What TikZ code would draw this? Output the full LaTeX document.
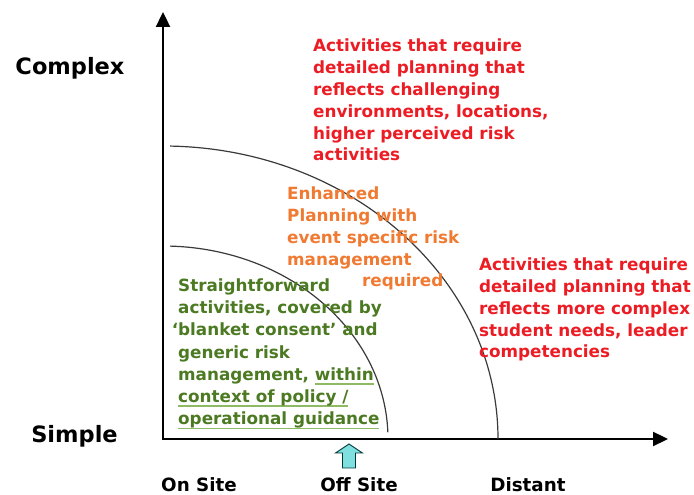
\documentclass[tikz,border=0pt]{standalone}
\usepackage{fontspec}
\setmainfont{DejaVu Sans}
\usetikzlibrary{arrows.meta}
\definecolor{redtxt}{HTML}{EC1C24}
\definecolor{orangetxt}{HTML}{F07A32}
\definecolor{greentxt}{HTML}{4C7A22}
\definecolor{ulgreen}{HTML}{8DBA62}
\definecolor{cyanfill}{HTML}{80E0E0}
\definecolor{arcgray}{HTML}{3A3A3A}
\newsavebox\myulbox
\newcommand\gul[1]{\sbox\myulbox{#1}\rlap{\textcolor{ulgreen}{\rule[-4.2pt]{\wd\myulbox}{1.6pt}}}\usebox\myulbox}
\tikzset{
  axislabel/.style={font=\fontsize{22.5}{26}\selectfont\bfseries, text=black, inner sep=0pt},
  placelabel/.style={font=\fontsize{18.3}{22}\selectfont\bfseries, text=black, inner sep=0pt},
  bodytext/.style={font=\fontsize{16.8}{21.9}\selectfont\bfseries, align=left, inner sep=0pt, anchor=base west},
  axisline/.style={line width=2.3pt, black, {Triangle[length=15pt,width=14pt]}-{Triangle[length=15pt,width=14pt]}},
  zonearc/.style={line width=1.2pt, arcgray},
  upmark/.style={draw=black!55!teal, fill=cyanfill, line width=0.9pt, line join=miter}
}
\begin{document}
\begin{tikzpicture}[x=1pt,y=1pt]
\useasboundingbox (0,0) rectangle (694,495);
\coordinate (O) at (163,56);
\coordinate (ytip) at (163,483);
\coordinate (xtip) at (668,56);
\draw[axisline] (ytip) -- (O) -- (xtip);
% zone arcs
\draw[zonearc] (O) ++(88.2:225pt and 193pt) arc[start angle=88.2, end angle=2, x radius=225pt, y radius=193pt];
\draw[zonearc] (O) ++(88.8:335pt and 293pt) arc[start angle=88.8, end angle=0, x radius=335pt, y radius=293pt];
% axis labels
\node[axislabel] (complex) at (70,427) {Complex};
\node[axislabel] (simple) at (74.5,59) {Simple};
\node[placelabel] (onsite) at (199,10) {On Site};
\node[placelabel] (offsite) at (359,10) {Off Site};
\node[placelabel] (distant) at (528,10) {Distant};
% off-site marker arrow
\coordinate (marktip) at (349,51);
\draw[upmark] (marktip) -- ++(13.5,-9) -- ++(-7,0) -- ++(0,-15) -- ++(-13,0) -- ++(0,15) -- ++(-7,0) -- cycle;
% texts
\node[bodytext, text=redtxt] (toptext) at (313,334) {Activities that require\\detailed planning that\\reflects challenging\\environments, locations,\\higher perceived risk\\activities};
\node[bodytext, text=orangetxt] (midtext) at (287,208) {Enhanced\\Planning with\\event specific risk\\management\\\hspace*{75pt}required};
\node[bodytext, text=redtxt] (righttext) at (479,137) {Activities that require\\detailed planning that\\reflects more complex\\student needs, leader\\competencies};
\node[bodytext, text=greentxt, font=\fontsize{16.8}{22.3}\selectfont\bfseries] (innertext) at (178,70) {Straightforward\\activities, covered by\\\llap{‘}blanket consent’ and\\generic risk\\management, \gul{within}\\\gul{context of policy /}\\\gul{operational guidance}};
\end{tikzpicture}
\end{document}
